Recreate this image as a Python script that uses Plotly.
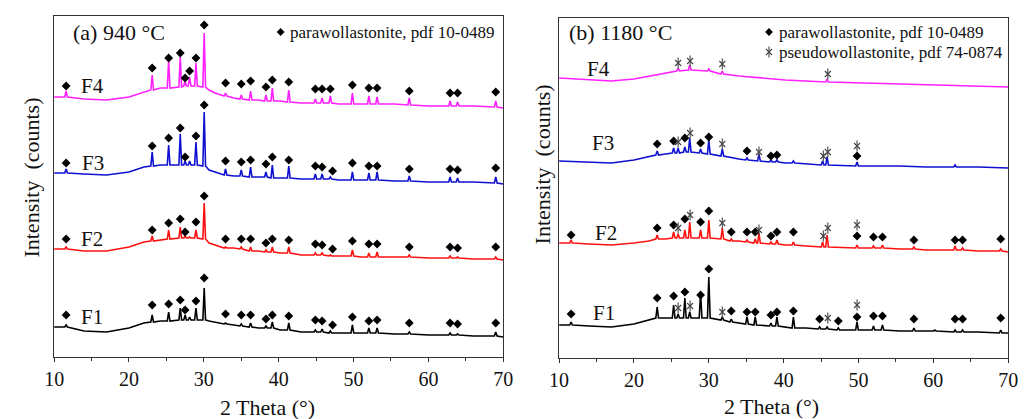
import plotly.graph_objects as go

# ---------------- Panel (a) 940 °C : parawollastonite peaks ----------------
PEAKS_A = [11.6, 23.1, 25.3, 26.85, 27.5, 28.1, 28.95, 30.05, 32.9, 35.0, 36.25, 38.3,
           39.15, 41.35, 44.9, 45.8, 46.9, 49.85, 52.05, 53.15, 57.45, 62.9, 63.9, 69.0]
BG_X_A = [10, 14, 17, 20, 22, 24.2, 30.7, 31.5, 34, 37.3, 40.2, 43, 48, 51, 55.5, 60, 66, 70]

a_F4_bg = [260, 258, 257, 260, 265, 269, 267, 264, 259, 257, 256, 254, 253, 253, 253, 251, 251, 249]
a_F4_base = [260, 267, 269, 270, 271, 271, 271, 270, 261, 258, 257, 256, 256, 255, 254, 254, 254, 253, 253, 253, 252, 251, 251, 250]
a_F4_top = [266, 282, 297, 300, 276, 280, 294, 324, 264, 262, 266, 262, 269, 267, 258, 259, 261, 264, 261, 260, 259, 256, 255, 256]

a_F3_bg = [184, 183, 182, 185, 190, 192, 187, 185, 181, 180, 179, 178, 177, 177, 176, 175, 175, 173]
a_F3_base = [184, 191, 192, 192, 192, 192, 192, 191, 182, 181, 180, 180, 179, 179, 178, 178, 178, 177, 177, 177, 176, 175, 175, 174]
a_F3_top = [188, 205, 212, 223, 196, 196, 215, 245, 188, 187, 190, 185, 192, 191, 183, 183, 180, 185, 184, 185, 181, 180, 179, 180]

a_F2_bg = [108, 106, 106, 110, 115, 117, 114, 112, 109, 106, 104, 102, 101, 100, 100, 99, 98, 97]
a_F2_base = [108, 116, 118, 119, 119, 119, 119, 118, 109, 108, 106, 105, 105, 104, 102, 102, 101, 101, 100, 100, 100, 99, 99, 98]
a_F2_top = [110, 121, 127, 130, 121, 120, 127, 154, 110, 110, 110, 107, 110, 110, 104, 104, 102, 107, 104, 105, 102, 101, 100, 100]

a_F1_bg = [30, 26, 25, 29, 34, 36, 36, 35, 32, 29, 27, 25, 24, 24, 23, 22, 21, 20]
a_F1_base = [30, 35, 36, 37, 37, 37, 37, 37, 33, 31, 30, 29, 29, 27, 25, 25, 24, 24, 24, 24, 23, 22, 22, 21]
a_F1_top = [32, 42, 45, 49, 42, 40, 49, 69, 34, 33, 34, 31, 35, 34, 27, 28, 26, 32, 29, 29, 25, 24, 23, 25]

DIA_X_A4 = [11.6, 23.1, 25.3, 26.85, 27.5, 28.1, 28.95, 30.05, 32.9, 35.0, 36.25, 38.3, 39.15, 41.35,
            44.9, 45.8, 46.9, 49.85, 52.05, 53.15, 57.45, 62.9, 63.9, 69.0]
DIA_Y_A4 = [271, 289, 299, 304, 279, 286, 299, 332, 274, 273, 276, 270, 277, 275,
            268, 268, 268, 272, 269, 269, 266, 264, 264, 265]
DIA_X_A = [11.6, 23.1, 25.3, 26.85, 27.5, 28.95, 30.05, 32.9, 35.0, 36.25, 38.3, 39.15, 41.35,
           44.9, 45.8, 47.2, 49.85, 52.05, 53.15, 57.45, 62.9, 63.9, 69.0]
DIA_Y_A3 = [194, 211, 219, 229, 200, 221, 252, 196, 195, 197, 193, 200, 197,
            191, 190, 186, 194, 191, 191, 188, 188, 187, 189]
DIA_Y_A2 = [118, 127, 134, 138, 125, 135, 161, 118, 118, 118, 114, 118, 117,
            113, 112, 108, 116, 113, 113, 110, 110, 109, 110]
DIA_Y_A1 = [42, 52, 53, 57, 47, 56, 79, 43, 42, 42, 38, 42, 41,
            37, 36, 32, 40, 36, 37, 34, 34, 33, 34]

# ---------------- Panel (b) 1180 °C ----------------
BG_X_B = [10, 14, 17, 20, 22, 24.2, 34, 40.2, 43, 50.8, 55.5, 59, 66, 70]

b_F4_bg = [280, 278, 277, 279, 282, 285, 282, 278, 277, 275, 274, 273, 272, 271]
b_F4_pk = [25.9, 27.45, 30.0, 31.8, 45.8]
b_F4_base = [287, 288, 287, 284, 276]
b_F4_top = [290, 293, 289, 287, 279]

b_F3_bg = [197, 196, 195, 198, 201, 204, 199, 195, 194, 192, 192, 191, 191, 190]
b_F3_pk = [23.1, 25.3, 25.9, 26.8, 27.45, 28.9, 30.0, 31.8, 35.1, 36.7, 38.3, 39.1, 41.3, 45.2, 45.8, 49.8, 62.9]
b_F3_base = [203, 205, 205, 206, 206, 205, 204, 202, 198, 197, 196, 196, 195, 193, 193, 192, 191]
b_F3_top = [207, 210, 210, 211, 220, 209, 218, 209, 200, 204, 198, 198, 197, 197, 201, 196, 193]

b_F2_bg = [115, 114, 113, 115, 117, 119, 117, 113, 112, 110, 109, 108, 107, 106]
b_F2_pk = [11.6, 23.1, 25.3, 25.9, 26.8, 27.45, 28.9, 30.0, 31.8, 33.0, 35.1, 36.2, 36.7, 38.3, 39.1,
           41.3, 45.2, 45.8, 49.8, 52.0, 53.2, 57.4, 62.9, 63.9, 69.0]
b_F2_base = [115, 119, 120, 120, 120, 120, 120, 120, 119, 117, 116, 115, 115, 114, 114,
             113, 111, 111, 110, 110, 110, 109, 108, 108, 107]
b_F2_top = [118, 123, 126, 124, 128, 136, 128, 138, 130, 119, 118, 119, 125, 116, 118,
            116, 116, 123, 113, 112, 113, 111, 112, 110, 109]

b_F1_bg = [33, 32, 31, 34, 38, 40, 35, 31, 30, 28, 27, 27, 26, 25]
b_F1_pk = [11.6, 23.1, 25.3, 25.9, 26.8, 27.45, 28.9, 30.0, 31.8, 33.0, 35.1, 36.2, 38.3, 39.1, 41.3,
           44.8, 45.8, 47.3, 49.8, 52.0, 53.2, 57.4, 60.2, 62.9, 63.9, 69.0]
b_F1_base = [33, 40, 40, 40, 40, 40, 40, 40, 38, 36, 34, 33, 32, 32, 30,
             29, 29, 28, 28, 28, 28, 27, 27, 26, 26, 25]
b_F1_top = [36, 51, 53, 44, 60, 46, 66, 81, 41, 39, 41, 41, 35, 41, 41,
            31, 31, 30, 36, 32, 33, 30, 28, 28, 28, 28]

DIA_X_B3 = [23.1, 25.3, 26.8, 28.9, 30.0, 35.1, 38.3, 39.1, 49.8]
DIA_Y_B3 = [214, 217, 220, 215, 221, 207, 202, 203, 202]
DIA_X_B2 = [11.6, 23.1, 25.3, 26.8, 28.9, 30.0, 33.0, 35.1, 36.2, 38.3, 39.1, 41.3, 49.8, 52.0, 53.2, 57.4, 62.9, 63.9, 69.0]
DIA_Y_B2 = [123, 130, 133, 139, 136, 147, 126, 126, 126, 122, 126, 126, 122, 121, 121, 118, 118, 118, 119]
DIA_X_B1 = [11.6, 23.1, 25.3, 26.8, 28.9, 30.0, 33.0, 35.1, 36.2, 38.3, 39.1, 41.3, 44.8, 47.3, 49.8, 52.0, 53.2, 57.4, 62.9, 63.9, 69.0]
DIA_Y_B1 = [44, 60, 62, 66, 63, 89, 47, 46, 46, 43, 46, 47, 39, 37, 41, 42, 42, 39, 39, 39, 40]

AST_X_B4 = [25.9, 27.5, 31.8, 45.9]
AST_Y_B4 = [295, 297, 294, 284]
AST_X_B3 = [25.9, 27.5, 31.8, 36.7, 45.3, 45.9, 49.8]
AST_Y_B3 = [216, 225, 214, 206, 202, 206, 212]
AST_X_B2 = [25.9, 27.5, 31.8, 36.7, 45.3, 45.9, 49.8]
AST_Y_B2 = [130, 143, 135, 128, 122, 130, 133]
AST_X_B1 = [25.9, 27.5, 31.8, 45.9, 49.8]
AST_Y_B1 = [50, 52, 46, 40, 53]

SAMPLES = ["F1", "F2", "F3", "F4"]
COLORS = {"F1": "#000000", "F2": "#ff1010", "F3": "#1010d0", "F4": "#ff20ff"}

LABEL_A = {"F4": (15.1, 271), "F3": (15.2, 194), "F2": (15.0, 118), "F1": (15.0, 40)}
LABEL_B = {"F4": (15.2, 289), "F3": (15.8, 215), "F2": (16.2, 125), "F1": (16.0, 45)}

FONT = "Liberation Serif"
STAR_COLOR = "#444444"
W = 0.18  # half width of a peak in degrees (drawing style)


def build(bg_x, bg_y, pk, base, top):
    pts = list(zip(bg_x, bg_y))
    for p, b, t in zip(pk, base, top):
        pts += [(p - W, b), (p, t), (p + W, b)]
    pts.sort(key=lambda q: q[0])
    return [q[0] for q in pts], [q[1] for q in pts]


fig = go.Figure()

curves_a = {
    "F4": (a_F4_bg, a_F4_base, a_F4_top),
    "F3": (a_F3_bg, a_F3_base, a_F3_top),
    "F2": (a_F2_bg, a_F2_base, a_F2_top),
    "F1": (a_F1_bg, a_F1_base, a_F1_top),
}
for name, (bg, base, top) in curves_a.items():
    x, y = build(BG_X_A, bg, PEAKS_A, base, top)
    fig.add_trace(go.Scatter(x=x, y=y, mode="lines", line=dict(color=COLORS[name], width=1.6),
                             xaxis="x", yaxis="y", showlegend=False, name=name))

curves_b = {
    "F4": (b_F4_bg, b_F4_pk, b_F4_base, b_F4_top),
    "F3": (b_F3_bg, b_F3_pk, b_F3_base, b_F3_top),
    "F2": (b_F2_bg, b_F2_pk, b_F2_base, b_F2_top),
    "F1": (b_F1_bg, b_F1_pk, b_F1_base, b_F1_top),
}
for name, (bg, pk, base, top) in curves_b.items():
    x, y = build(BG_X_B, bg, pk, base, top)
    fig.add_trace(go.Scatter(x=x, y=y, mode="lines", line=dict(color=COLORS[name], width=1.6),
                             xaxis="x2", yaxis="y2", showlegend=False, name=name))

DIA = dict(symbol="diamond", size=6.8, color="black", line=dict(width=0))

for xs, ys in [(DIA_X_A4, DIA_Y_A4), (DIA_X_A, DIA_Y_A3), (DIA_X_A, DIA_Y_A2), (DIA_X_A, DIA_Y_A1)]:
    fig.add_trace(go.Scatter(x=xs, y=ys, mode="markers", marker=DIA, xaxis="x", yaxis="y", showlegend=False))
for xs, ys in [(DIA_X_B3, DIA_Y_B3), (DIA_X_B2, DIA_Y_B2), (DIA_X_B1, DIA_Y_B1)]:
    fig.add_trace(go.Scatter(x=xs, y=ys, mode="markers", marker=DIA, xaxis="x2", yaxis="y2", showlegend=False))


def add_star(xs, ys, xa, ya):
    # six-armed asterisk drawn as a diagonal cross plus a vertical bar
    for sym, sz in [("x-thin-open", 6), ("line-ns-open", 8)]:
        fig.add_trace(go.Scatter(x=xs, y=ys, mode="markers",
                                 marker=dict(symbol=sym, size=sz, color=STAR_COLOR,
                                             line=dict(color=STAR_COLOR, width=1.1)),
                                 xaxis=xa, yaxis=ya, showlegend=False))


for xs, ys in [(AST_X_B4, AST_Y_B4), (AST_X_B3, AST_Y_B3), (AST_X_B2, AST_Y_B2), (AST_X_B1, AST_Y_B1)]:
    add_star(xs, ys, "x2", "y2")

# key symbols
fig.add_trace(go.Scatter(x=[40.26], y=[325], mode="markers", marker=dict(symbol="diamond", size=6, color="black"),
                         xaxis="x", yaxis="y", showlegend=False))
fig.add_trace(go.Scatter(x=[38.04], y=[326], mode="markers", marker=dict(symbol="diamond", size=6, color="black"),
                         xaxis="x2", yaxis="y2", showlegend=False))
add_star([38.04], [306], "x2", "y2")

ann = []
for name in SAMPLES:
    ann.append(dict(x=LABEL_A[name][0], y=LABEL_A[name][1], xref="x", yref="y", text=name,
                    showarrow=False, font=dict(family=FONT, size=21, color="#111")))
    ann.append(dict(x=LABEL_B[name][0], y=LABEL_B[name][1], xref="x2", yref="y2", text=name,
                    showarrow=False, font=dict(family=FONT, size=21, color="#111")))

W_PX, H_PX = 1029, 419


def px(x, y):
    return x / W_PX, 1 - y / H_PX


for text, (x, y), size, anchor in [
    ("(a) 940 °C", (62, 32), 22, "left"),
    ("(b) 1180 °C", (568, 33), 22, "left"),
    ("parawollastonite, pdf 10-0489", (284, 32), 17, "left"),
    ("parawollastonite, pdf 10-0489", (782, 32), 17, "left"),
    ("pseudowollastonite, pdf 74-0874", (782, 52), 17, "left"),
    ("2 Theta (°)", (263, 407), 22, "center"),
    ("2 Theta (°)", (777, 406), 22, "center"),
]:
    xx, yy = px(x, y)
    ann.append(dict(x=xx, y=yy, xref="paper", yref="paper", text=text, showarrow=False,
                    xanchor=anchor, yanchor="middle", font=dict(family=FONT, size=size, color="#111")))

for x, y in [(22, 178), (543, 164)]:
    xx, yy = px(x, y)
    ann.append(dict(x=xx, y=yy, xref="paper", yref="paper", text="Intensity  (counts)", showarrow=False,
                    textangle=-90, xanchor="center", yanchor="middle",
                    font=dict(family=FONT, size=22, color="#111")))

xcommon = dict(range=[10, 70], tickvals=[10, 20, 30, 40, 50, 60, 70], ticks="outside", ticklen=4,
               tickcolor="#333", showline=True, linecolor="#333", linewidth=1, mirror=True,
               showgrid=False, zeroline=False, tickfont=dict(family=FONT, size=20, color="#111"),
               minor=dict(dtick=5, tick0=0, ticks="outside", ticklen=3, tickcolor="#333"))
ycommon = dict(showticklabels=False, ticks="", showline=True, linecolor="#333", linewidth=1, mirror=True,
               showgrid=False, zeroline=False)

fig.update_layout(
    width=W_PX, height=H_PX, margin=dict(l=0, r=0, t=0, b=0),
    paper_bgcolor="white", plot_bgcolor="white",
    font=dict(family=FONT, color="#111"),
    xaxis=dict(domain=[45 / W_PX, 503 / W_PX], anchor="y", **xcommon),
    yaxis=dict(domain=[1 - 357 / H_PX, 1 - 16 / H_PX], range=[0, 341], anchor="x", **ycommon),
    xaxis2=dict(domain=[560 / W_PX, 1018 / W_PX], anchor="y2", **xcommon),
    yaxis2=dict(domain=[1 - 358 / H_PX, 1 - 18 / H_PX], range=[0, 340], anchor="x2", **ycommon),
    annotations=ann,
)

fig.write_html("out.html")
